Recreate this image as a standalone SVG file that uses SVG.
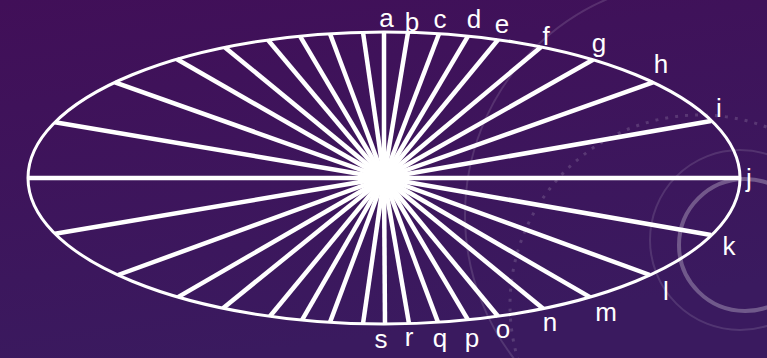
<svg xmlns="http://www.w3.org/2000/svg" width="767" height="358" viewBox="0 0 767 358">
<defs>
<linearGradient id="bg" x1="0" y1="0" x2="0.3" y2="1">
<stop offset="0" stop-color="#410f58"/>
<stop offset="1" stop-color="#3a1a5f"/>
</linearGradient>
<style>
.deco{fill:none;stroke:#ffffff}
.spoke{stroke:#ffffff;stroke-width:4.5;stroke-linecap:butt}
.rim{fill:none;stroke:#ffffff;stroke-width:3}
.lbl{fill:#ffffff;font-family:"Liberation Sans",Arial,sans-serif;font-size:26px;text-anchor:middle}
</style>
</defs>
<rect width="767" height="358" fill="url(#bg)"/>
<g id="decor">
<circle class="deco" cx="700" cy="215" r="235" stroke-opacity="0.13" stroke-width="2"/>
<circle class="deco" cx="700" cy="305" r="190" stroke-opacity="0.15" stroke-width="3" stroke-dasharray="3 7"/>
<circle class="deco" cx="745" cy="245" r="66" stroke-opacity="0.28" stroke-width="4"/>
<circle class="deco" cx="740" cy="240" r="90" stroke-opacity="0.12" stroke-width="2"/>
</g>
<g id="connectors">
<ellipse class="rim" cx="384" cy="178" rx="356" ry="146"/>
<line class="spoke" x1="384" y1="178" x2="384" y2="32"/>
<line class="spoke" x1="384" y1="178" x2="408" y2="32.3"/>
<line class="spoke" x1="384" y1="178" x2="439" y2="33.8"/>
<line class="spoke" x1="384" y1="178" x2="468" y2="36.1"/>
<line class="spoke" x1="384" y1="178" x2="498" y2="39.7"/>
<line class="spoke" x1="384" y1="178" x2="541" y2="47"/>
<line class="spoke" x1="384" y1="178" x2="593" y2="59.8"/>
<line class="spoke" x1="384" y1="178" x2="653" y2="82.4"/>
<line class="spoke" x1="384" y1="178" x2="711" y2="121"/>
<line class="spoke" x1="384" y1="178" x2="740" y2="178"/>
<line class="spoke" x1="384" y1="178" x2="711" y2="235"/>
<line class="spoke" x1="384" y1="178" x2="650" y2="275"/>
<line class="spoke" x1="384" y1="178" x2="590" y2="297.1"/>
<line class="spoke" x1="384" y1="178" x2="543" y2="308.6"/>
<line class="spoke" x1="384" y1="178" x2="498" y2="316.3"/>
<line class="spoke" x1="384" y1="178" x2="468" y2="319.9"/>
<line class="spoke" x1="384" y1="178" x2="438" y2="322.3"/>
<line class="spoke" x1="384" y1="178" x2="409" y2="323.6"/>
<line class="spoke" x1="384" y1="178" x2="385" y2="324"/>
<line class="spoke" x1="384" y1="178" x2="363" y2="32.3"/>
<line class="spoke" x1="384" y1="178" x2="330" y2="33.7"/>
<line class="spoke" x1="384" y1="178" x2="300" y2="36.1"/>
<line class="spoke" x1="384" y1="178" x2="268" y2="40"/>
<line class="spoke" x1="384" y1="178" x2="225" y2="47.4"/>
<line class="spoke" x1="384" y1="178" x2="177" y2="59.2"/>
<line class="spoke" x1="384" y1="178" x2="115" y2="82.4"/>
<line class="spoke" x1="384" y1="178" x2="55" y2="122.2"/>
<line class="spoke" x1="384" y1="178" x2="28" y2="178"/>
<line class="spoke" x1="384" y1="178" x2="55" y2="233.8"/>
<line class="spoke" x1="384" y1="178" x2="118" y2="275"/>
<line class="spoke" x1="384" y1="178" x2="178" y2="297.1"/>
<line class="spoke" x1="384" y1="178" x2="223" y2="308.2"/>
<line class="spoke" x1="384" y1="178" x2="270" y2="316.3"/>
<line class="spoke" x1="384" y1="178" x2="302" y2="320.1"/>
<line class="spoke" x1="384" y1="178" x2="330" y2="322.3"/>
<line class="spoke" x1="384" y1="178" x2="363" y2="323.7"/>
</g>
<g id="labels">
<text class="lbl" x="386.5" y="27">a</text>
<text class="lbl" x="412" y="31">b</text>
<text class="lbl" x="440" y="28">c</text>
<text class="lbl" x="474" y="28">d</text>
<text class="lbl" x="502" y="33">e</text>
<text class="lbl" x="546" y="45">f</text>
<text class="lbl" x="599" y="52">g</text>
<text class="lbl" x="661" y="73">h</text>
<text class="lbl" x="719" y="117">i</text>
<text class="lbl" x="749" y="187">j</text>
<text class="lbl" x="729" y="255">k</text>
<text class="lbl" x="666" y="300">l</text>
<text class="lbl" x="606" y="321">m</text>
<text class="lbl" x="550" y="331">n</text>
<text class="lbl" x="503" y="338">o</text>
<text class="lbl" x="472" y="347">p</text>
<text class="lbl" x="440" y="347">q</text>
<text class="lbl" x="409" y="346">r</text>
<text class="lbl" x="381" y="348">s</text>
</g>
</svg>
